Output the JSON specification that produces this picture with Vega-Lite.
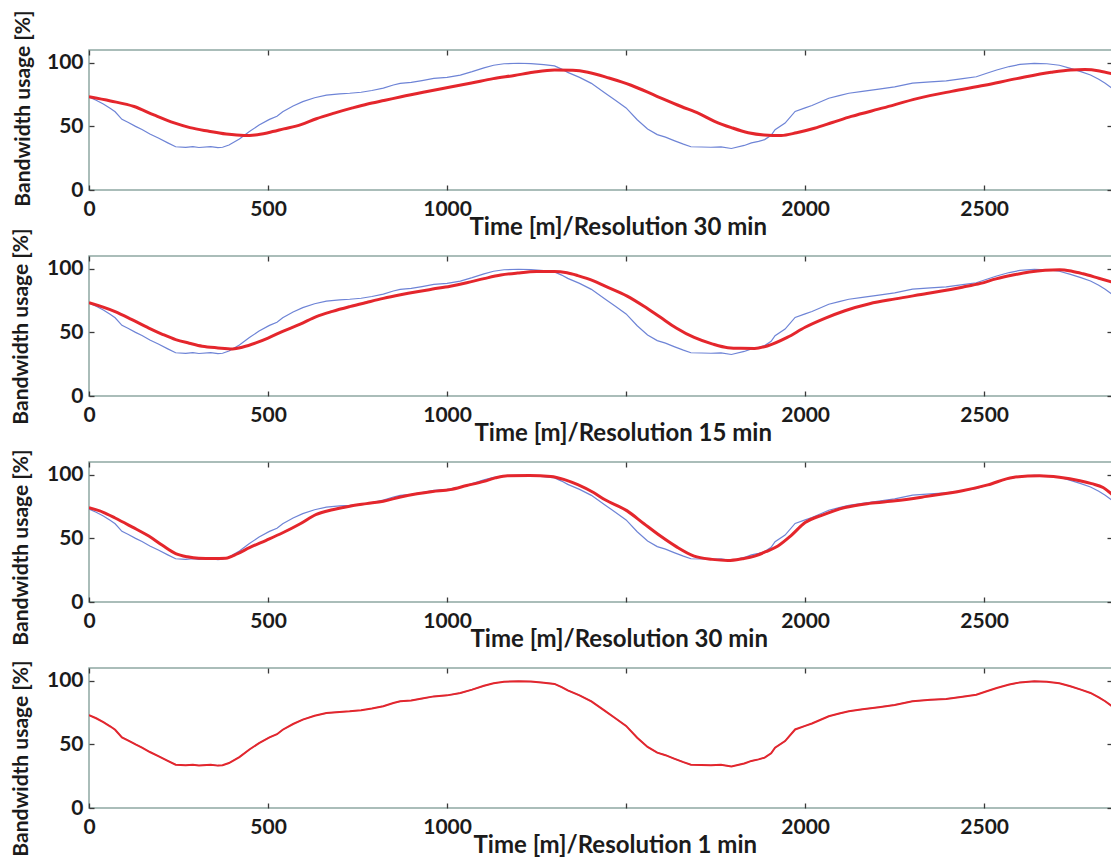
{
  "$schema": "https://vega.github.io/schema/vega-lite/v6.json",
  "padding": {"left": 9, "top": 9, "right": 0, "bottom": 0},
  "background": "white",
  "config": {
    "view": {"stroke": "#8fa8a2", "strokeWidth": 1.5},
    "font": "Lato",
    "axis": {
      "labelFont": "Lato", "labelFontWeight": "bold", "labelFontSize": 21, "labelColor": "#1b1b1b",
      "titleFont": "Lato", "titleFontWeight": "bold", "titleColor": "#1b1b1b",
      "grid": false, "domain": false, "tickColor": "#3a3a3a", "tickSize": 5, "tickWidth": 1.3, "offset": -5, "format": "d"
    }
  },
  "datasets": {
    "actual": [
      {"t":0,"v":73},{"t":20,"v":70.5},{"t":40,"v":67.5},{"t":60,"v":64},{"t":73,"v":61.5},{"t":92,"v":55.5},{"t":110,"v":53},{"t":130,"v":50},{"t":148,"v":47.5},{"t":170,"v":44},{"t":195,"v":40.6},{"t":220,"v":37},{"t":242,"v":34},{"t":270,"v":33.5},{"t":290,"v":34},{"t":307,"v":33.4},{"t":340,"v":34},{"t":360,"v":33.3},{"t":373,"v":33.6},{"t":391,"v":35.3},{"t":420,"v":40},{"t":448,"v":46},{"t":475,"v":51},{"t":504,"v":55.5},{"t":525,"v":58},{"t":541,"v":61.5},{"t":570,"v":66},{"t":597,"v":69.4},{"t":630,"v":72.5},{"t":663,"v":74.6},{"t":700,"v":75.5},{"t":728,"v":76},{"t":760,"v":76.8},{"t":790,"v":78.2},{"t":822,"v":80},{"t":850,"v":82.5},{"t":869,"v":83.8},{"t":900,"v":84.5},{"t":930,"v":86},{"t":963,"v":87.7},{"t":1000,"v":88.5},{"t":1037,"v":90.3},{"t":1070,"v":93},{"t":1103,"v":96},{"t":1130,"v":98},{"t":1159,"v":99.2},{"t":1200,"v":99.6},{"t":1234,"v":99.3},{"t":1270,"v":98.5},{"t":1300,"v":97.5},{"t":1320,"v":95},{"t":1337,"v":92.4},{"t":1370,"v":88.5},{"t":1403,"v":83.8},{"t":1440,"v":76.5},{"t":1470,"v":70.5},{"t":1500,"v":64.5},{"t":1531,"v":55.2},{"t":1560,"v":48},{"t":1587,"v":43.5},{"t":1610,"v":41.5},{"t":1634,"v":38.8},{"t":1660,"v":36},{"t":1681,"v":34},{"t":1710,"v":33.8},{"t":1737,"v":33.6},{"t":1765,"v":33.9},{"t":1794,"v":32.6},{"t":1830,"v":35},{"t":1850,"v":37},{"t":1870,"v":38.2},{"t":1887,"v":39.6},{"t":1905,"v":43},{"t":1916,"v":47.4},{"t":1944,"v":52.6},{"t":1972,"v":61.7},{"t":2000,"v":64.5},{"t":2019,"v":66.4},{"t":2045,"v":69.5},{"t":2066,"v":72.1},{"t":2095,"v":74.2},{"t":2122,"v":76},{"t":2160,"v":77.5},{"t":2206,"v":79.2},{"t":2250,"v":81},{"t":2300,"v":83.9},{"t":2350,"v":85},{"t":2394,"v":85.7},{"t":2440,"v":87.5},{"t":2478,"v":89},{"t":2505,"v":91.5},{"t":2535,"v":94.3},{"t":2570,"v":97},{"t":2600,"v":98.7},{"t":2640,"v":99.5},{"t":2675,"v":99.2},{"t":2710,"v":98},{"t":2741,"v":95.6},{"t":2770,"v":93},{"t":2797,"v":90.4},{"t":2820,"v":87},{"t":2838,"v":83.9},{"t":2857,"v":80}
    ],
    "p1": [
      {"t":0,"v":73.3},{"t":60,"v":70},{"t":126,"v":65.6},{"t":181,"v":59},{"t":238,"v":52.7},{"t":282,"v":49},{"t":332,"v":46.3},{"t":383,"v":44},{"t":433,"v":42.9},{"t":464,"v":43.3},{"t":500,"v":45},{"t":544,"v":48},{"t":592,"v":51.4},{"t":635,"v":56},{"t":685,"v":60.4},{"t":736,"v":64.5},{"t":778,"v":67.6},{"t":827,"v":70.5},{"t":872,"v":73.3},{"t":937,"v":77},{"t":1002,"v":80.5},{"t":1068,"v":84},{"t":1129,"v":87.5},{"t":1188,"v":90},{"t":1240,"v":92.5},{"t":1300,"v":94.3},{"t":1351,"v":94},{"t":1393,"v":92.5},{"t":1452,"v":88},{"t":1514,"v":82.3},{"t":1583,"v":74},{"t":1654,"v":65.6},{"t":1704,"v":60},{"t":1747,"v":54},{"t":1794,"v":49},{"t":1841,"v":45},{"t":1885,"v":43.3},{"t":1933,"v":42.9},{"t":1976,"v":45},{"t":2026,"v":48.5},{"t":2076,"v":53},{"t":2129,"v":57.8},{"t":2218,"v":64.5},{"t":2315,"v":72},{"t":2409,"v":77.5},{"t":2501,"v":82.3},{"t":2591,"v":87.5},{"t":2687,"v":92.5},{"t":2742,"v":94.3},{"t":2781,"v":94.6},{"t":2822,"v":93.5},{"t":2857,"v":91.3}
    ],
    "p2": [
      {"t":0,"v":73.3},{"t":73,"v":66.3},{"t":120,"v":60},{"t":167,"v":53.4},{"t":205,"v":48.5},{"t":242,"v":44.3},{"t":280,"v":41.5},{"t":316,"v":39.1},{"t":360,"v":37.8},{"t":401,"v":37},{"t":430,"v":38.5},{"t":466,"v":41.7},{"t":500,"v":45.5},{"t":541,"v":50.8},{"t":590,"v":56.5},{"t":635,"v":62.4},{"t":680,"v":66.5},{"t":728,"v":70.2},{"t":775,"v":73.5},{"t":822,"v":76.7},{"t":870,"v":79.5},{"t":916,"v":81.9},{"t":960,"v":84},{"t":1009,"v":86.3},{"t":1055,"v":89},{"t":1103,"v":92.2},{"t":1150,"v":95},{"t":1197,"v":96.6},{"t":1250,"v":97.8},{"t":1300,"v":97.9},{"t":1335,"v":96.8},{"t":1365,"v":94.6},{"t":1409,"v":90.5},{"t":1440,"v":86.5},{"t":1503,"v":78.5},{"t":1550,"v":70.5},{"t":1596,"v":61.8},{"t":1640,"v":53.5},{"t":1690,"v":46},{"t":1740,"v":41},{"t":1784,"v":38},{"t":1820,"v":37.5},{"t":1859,"v":37.4},{"t":1896,"v":39.5},{"t":1950,"v":46},{"t":2000,"v":54},{"t":2055,"v":61},{"t":2111,"v":67},{"t":2180,"v":72.5},{"t":2252,"v":76.3},{"t":2340,"v":80.5},{"t":2439,"v":85.5},{"t":2490,"v":88.5},{"t":2533,"v":92},{"t":2580,"v":95},{"t":2626,"v":97.4},{"t":2670,"v":98.8},{"t":2711,"v":99.2},{"t":2745,"v":98},{"t":2776,"v":96},{"t":2820,"v":92.5},{"t":2857,"v":89.5}
    ],
    "p3": [
      {"t":0,"v":74},{"t":40,"v":70.5},{"t":73,"v":66},{"t":120,"v":59},{"t":167,"v":51.8},{"t":205,"v":44.5},{"t":242,"v":38},{"t":275,"v":35.5},{"t":307,"v":34.4},{"t":345,"v":34.2},{"t":382,"v":34.4},{"t":415,"v":38},{"t":448,"v":42.7},{"t":495,"v":48.5},{"t":541,"v":54.4},{"t":590,"v":61.5},{"t":635,"v":68.8},{"t":680,"v":72.5},{"t":728,"v":75.3},{"t":775,"v":77.3},{"t":822,"v":79.2},{"t":870,"v":82.5},{"t":916,"v":85},{"t":960,"v":86.8},{"t":1009,"v":88.3},{"t":1055,"v":91.5},{"t":1103,"v":94.8},{"t":1135,"v":97.5},{"t":1169,"v":99.2},{"t":1230,"v":99.3},{"t":1290,"v":98.7},{"t":1330,"v":96},{"t":1365,"v":92.2},{"t":1409,"v":86},{"t":1440,"v":80.5},{"t":1503,"v":71.6},{"t":1550,"v":61.5},{"t":1596,"v":51.8},{"t":1640,"v":43.5},{"t":1690,"v":36},{"t":1740,"v":33.5},{"t":1784,"v":32.6},{"t":1825,"v":34},{"t":1859,"v":36},{"t":1890,"v":39.5},{"t":1924,"v":44},{"t":1960,"v":52},{"t":2000,"v":62.4},{"t":2050,"v":68.5},{"t":2111,"v":74.2},{"t":2180,"v":77.5},{"t":2252,"v":79.5},{"t":2340,"v":83},{"t":2439,"v":87.4},{"t":2510,"v":92},{"t":2580,"v":97.9},{"t":2655,"v":99.2},{"t":2710,"v":98},{"t":2767,"v":95.3},{"t":2800,"v":93},{"t":2832,"v":90},{"t":2857,"v":84.5}
    ]
  },
  "bounds": "flush",
  "spacing": 66,
  "vconcat": [
    {
      "width": 1023, "height": 140,
      "layer": [
        {"data": {"name": "actual"}, "mark": {"type": "line", "color": "#6e84d6", "strokeWidth": 1.2, "clip": true},
         "encoding": {
           "x": {"field": "t", "type": "quantitative", "scale": {"domain": [0, 2857], "nice": false, "zero": false},
                 "axis": {"orient": "bottom", "values": [0,500,1000,1500,2000,2500], "labelExpr": "datum.value == 1500 ? '' : datum.label", "labelFlush": false, "labelPadding": 8, "title": "Time [m]/Resolution 30 min", "titleFontSize": 24, "titleX": 380, "titleY": 42, "titleAlign": "left", "titleBaseline": "middle"}},
           "y": {"field": "v", "type": "quantitative", "scale": {"domain": [0, 110], "nice": false},
                 "axis": {"orient": "left", "values": [0,50,100], "labelPadding": 6, "title": "Bandwidth usage [%]", "titleFontSize": 21, "titleAngle": -90, "titleX": -71, "titleY": 58, "titleAlign": "center", "titleBaseline": "middle"}}
         }},
        {"data": {"name": "p1"}, "mark": {"type": "line", "color": "#e4262c", "strokeWidth": 3, "clip": true, "interpolate": "monotone"},
         "encoding": {
           "x": {"field": "t", "type": "quantitative", "axis": {"orient": "top", "values": [0,500,1000,1500,2000,2500], "labels": false, "title": null}},
           "y": {"field": "v", "type": "quantitative", "axis": {"orient": "right", "values": [0,50,100], "labels": false, "title": null}}
         }}
      ],
      "resolve": {"axis": {"x": "independent", "y": "independent"}}
    },
    {
      "width": 1023, "height": 140,
      "layer": [
        {"data": {"name": "actual"}, "mark": {"type": "line", "color": "#6e84d6", "strokeWidth": 1.2, "clip": true},
         "encoding": {
           "x": {"field": "t", "type": "quantitative", "scale": {"domain": [0, 2857], "nice": false, "zero": false},
                 "axis": {"orient": "bottom", "values": [0,500,1000,1500,2000,2500], "labelExpr": "datum.value == 1500 ? '' : datum.label", "labelFlush": false, "labelPadding": 8, "title": "Time [m]/Resolution 15 min", "titleFontSize": 24, "titleX": 385, "titleY": 42, "titleAlign": "left", "titleBaseline": "middle"}},
           "y": {"field": "v", "type": "quantitative", "scale": {"domain": [0, 110], "nice": false},
                 "axis": {"orient": "left", "values": [0,50,100], "labelPadding": 6, "title": "Bandwidth usage [%]", "titleFontSize": 21, "titleAngle": -90, "titleX": -73, "titleY": 70, "titleAlign": "center", "titleBaseline": "middle"}}
         }},
        {"data": {"name": "p2"}, "mark": {"type": "line", "color": "#e4262c", "strokeWidth": 3, "clip": true, "interpolate": "monotone"},
         "encoding": {
           "x": {"field": "t", "type": "quantitative", "axis": {"orient": "top", "values": [0,500,1000,1500,2000,2500], "labels": false, "title": null}},
           "y": {"field": "v", "type": "quantitative", "axis": {"orient": "right", "values": [0,50,100], "labels": false, "title": null}}
         }}
      ],
      "resolve": {"axis": {"x": "independent", "y": "independent"}}
    },
    {
      "width": 1023, "height": 140,
      "layer": [
        {"data": {"name": "actual"}, "mark": {"type": "line", "color": "#6e84d6", "strokeWidth": 1.2, "clip": true},
         "encoding": {
           "x": {"field": "t", "type": "quantitative", "scale": {"domain": [0, 2857], "nice": false, "zero": false},
                 "axis": {"orient": "bottom", "values": [0,500,1000,1500,2000,2500], "labelExpr": "datum.value == 1500 ? '' : datum.label", "labelFlush": false, "labelPadding": 8, "title": "Time [m]/Resolution 30 min", "titleFontSize": 24, "titleX": 381, "titleY": 42, "titleAlign": "left", "titleBaseline": "middle"}},
           "y": {"field": "v", "type": "quantitative", "scale": {"domain": [0, 110], "nice": false},
                 "axis": {"orient": "left", "values": [0,50,100], "labelPadding": 6, "title": "Bandwidth usage [%]", "titleFontSize": 21, "titleAngle": -90, "titleX": -73, "titleY": 85, "titleAlign": "center", "titleBaseline": "middle"}}
         }},
        {"data": {"name": "p3"}, "mark": {"type": "line", "color": "#e4262c", "strokeWidth": 3, "clip": true, "interpolate": "monotone"},
         "encoding": {
           "x": {"field": "t", "type": "quantitative", "axis": {"orient": "top", "values": [0,500,1000,1500,2000,2500], "labels": false, "title": null}},
           "y": {"field": "v", "type": "quantitative", "axis": {"orient": "right", "values": [0,50,100], "labels": false, "title": null}}
         }}
      ],
      "resolve": {"axis": {"x": "independent", "y": "independent"}}
    },
    {
      "width": 1023, "height": 140,
      "layer": [
        {"data": {"name": "actual"}, "mark": {"type": "line", "color": "#6e84d6", "strokeWidth": 1.2, "clip": true},
         "encoding": {
           "x": {"field": "t", "type": "quantitative", "scale": {"domain": [0, 2857], "nice": false, "zero": false},
                 "axis": {"orient": "bottom", "values": [0,500,1000,1500,2000,2500], "labelExpr": "datum.value == 1500 ? '' : datum.label", "labelFlush": false, "labelPadding": 8, "title": "Time [m]/Resolution 1 min", "titleFontSize": 24, "titleX": 384, "titleY": 42, "titleAlign": "left", "titleBaseline": "middle"}},
           "y": {"field": "v", "type": "quantitative", "scale": {"domain": [0, 110], "nice": false},
                 "axis": {"orient": "left", "values": [0,50,100], "labelPadding": 6, "title": "Bandwidth usage [%]", "titleFontSize": 21, "titleAngle": -90, "titleX": -73, "titleY": 90, "titleAlign": "center", "titleBaseline": "middle"}}
         }},
        {"data": {"name": "actual"}, "mark": {"type": "line", "color": "#e4262c", "strokeWidth": 2, "clip": true},
         "encoding": {
           "x": {"field": "t", "type": "quantitative", "axis": {"orient": "top", "values": [0,500,1000,1500,2000,2500], "labels": false, "title": null}},
           "y": {"field": "v", "type": "quantitative", "axis": {"orient": "right", "values": [0,50,100], "labels": false, "title": null}}
         }}
      ],
      "resolve": {"axis": {"x": "independent", "y": "independent"}}
    }
  ]
}
